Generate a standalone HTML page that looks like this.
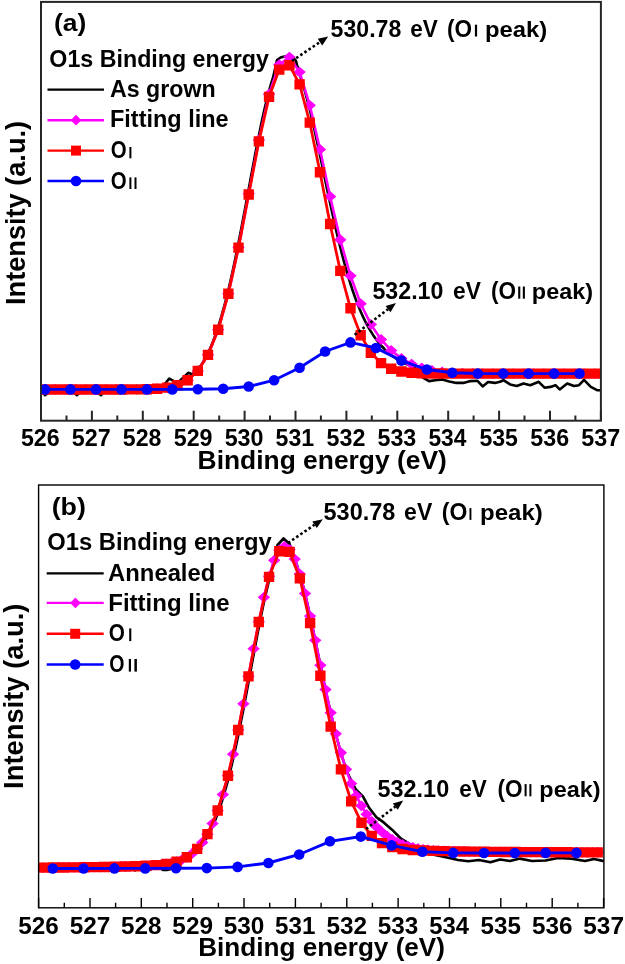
<!DOCTYPE html>
<html><head><meta charset="utf-8"><style>
html,body{margin:0;padding:0;background:#fff;}
svg{display:block;filter:blur(0.35px);}
text{font-family:"Liberation Sans",sans-serif;font-weight:bold;fill:#000;}
</style></head><body>
<svg width="625" height="964" viewBox="0 0 625 964">
<rect width="625" height="964" fill="#fff"/>
<clipPath id="ca"><rect x="41" y="1.9" width="559.9" height="418.8"/></clipPath>
<g clip-path="url(#ca)">
<polyline points="41.0,388.9 45.0,395.2 49.0,392.5 53.0,391.4 57.0,389.0 61.0,390.7 65.0,390.9 69.0,389.3 73.0,392.2 77.0,395.2 81.0,390.5 85.0,391.1 89.0,390.7 93.0,391.4 97.0,392.2 101.0,395.2 105.0,389.9 109.0,391.7 113.0,392.0 117.0,390.0 121.0,388.5 125.0,393.4 129.0,390.0 133.0,390.1 137.0,393.0 141.0,391.4 145.0,390.9 149.0,392.4 153.0,388.7 157.0,392.0 161.0,389.0 164.5,384.5 169.2,378.6 174.0,381.2 179.0,381.5 184.0,377.0 188.4,372.8 192.5,374.5 197.0,369.0 201.0,365.4 203.0,362.3 205.0,358.8 207.0,355.0 209.0,350.9 211.0,346.3 213.0,341.4 215.0,336.1 217.0,330.4 219.0,324.3 221.0,317.7 223.0,310.7 225.0,303.3 227.0,295.4 229.0,287.2 231.0,278.5 233.0,269.5 235.0,260.1 237.0,250.3 239.0,240.3 241.0,230.1 243.0,219.6 245.0,208.9 247.0,198.2 249.0,187.4 251.0,176.6 253.0,165.9 255.0,155.3 257.0,144.9 259.0,134.9 261.0,125.1 263.0,115.8 265.0,107.0 267.0,98.7 269.0,91.0 271.0,84.0 273.0,77.7 277.0,60.0 281.0,57.2 284.5,56.6 289.0,56.8 294.0,58.5 296.0,61.0 297.0,65.3 299.0,69.6 301.0,78.9 303.0,84.9 305.0,91.6 307.0,98.8 309.0,106.5 311.0,114.7 313.0,123.3 315.0,132.2 317.0,141.3 319.0,150.7 321.0,160.1 323.0,169.6 325.0,179.2 327.0,188.7 329.0,198.1 331.0,207.3 333.0,216.4 335.0,225.3 337.0,233.9 339.0,242.2 341.0,250.2 343.0,258.0 345.0,265.3 347.0,272.4 349.0,279.1 351.0,285.5 353.0,291.5 355.0,297.2 357.0,302.6 359.0,307.6 361.0,312.3 363.0,316.7 365.0,320.9 367.0,324.8 369.0,328.4 371.0,331.7 373.0,334.9 375.0,337.8 377.0,340.5 379.0,343.0 381.0,345.4 383.0,347.5 385.0,349.6 387.0,351.5 389.0,353.2 391.0,354.9 393.0,356.4 395.0,357.8 397.0,359.1 399.0,360.3 401.0,361.5 403.0,362.5 405.0,363.5 407.0,364.4 409.0,365.2 411.0,366.0 413.0,366.7 415.0,367.4 417.0,368.0 422.9,377.6 429.0,381.1 435.2,380.2 442.3,379.4 449.3,381.5 456.3,382.9 463.4,382.9 470.4,381.1 477.5,380.8 482.7,386.4 488.0,382.0 495.0,382.9 500.0,381.8 503.4,380.2 510.1,384.4 516.8,386.0 523.5,383.5 530.3,385.2 538.7,381.8 544.5,387.7 550.4,386.9 555.5,385.2 559.7,389.4 567.2,383.5 574.0,386.0 579.0,385.2 584.0,379.8 590.8,386.9 597.5,390.3 602.0,390.3" fill="none" stroke="#000" stroke-width="2.6" stroke-linejoin="round"/>
<polyline points="45.1,389.4 55.3,389.4 65.5,389.4 75.6,389.4 85.8,389.4 96.0,389.4 106.2,389.4 116.4,389.4 126.5,389.4 136.7,389.4 146.9,389.2 157.1,388.7 167.3,387.6 177.4,385.2 187.6,380.2 197.8,370.9 208.0,354.8 218.2,329.6 228.3,293.6 238.5,247.3 248.7,193.9 258.9,140.0 269.1,94.1 279.2,64.7 289.4,57.1 299.6,72.1 309.8,105.3 320.0,149.5 330.1,196.5 340.3,239.8 350.5,275.8 360.7,303.7 370.9,324.4 381.0,339.5 391.2,350.5 401.4,358.4 411.6,364.0 421.8,367.9 431.9,370.4 442.1,371.9 452.3,372.8 462.5,373.2 472.7,373.4 482.8,373.5 493.0,373.6 503.2,373.6 513.4,373.6 523.6,373.6 533.7,373.6 543.9,373.6 554.1,373.6 564.3,373.6 574.5,373.6 584.6,373.6 594.8,373.6" fill="none" stroke="#f0f" stroke-width="2.6"/>
<path d="M45.10,384.05l6.2,5.4l-6.2,5.4l-6.2,-5.4zM55.28,384.05l6.2,5.4l-6.2,5.4l-6.2,-5.4zM65.46,384.05l6.2,5.4l-6.2,5.4l-6.2,-5.4zM75.64,384.05l6.2,5.4l-6.2,5.4l-6.2,-5.4zM85.82,384.05l6.2,5.4l-6.2,5.4l-6.2,-5.4zM96.00,384.05l6.2,5.4l-6.2,5.4l-6.2,-5.4zM106.18,384.05l6.2,5.4l-6.2,5.4l-6.2,-5.4zM116.36,384.04l6.2,5.4l-6.2,5.4l-6.2,-5.4zM126.54,384.02l6.2,5.4l-6.2,5.4l-6.2,-5.4zM136.72,383.96l6.2,5.4l-6.2,5.4l-6.2,-5.4zM146.90,383.79l6.2,5.4l-6.2,5.4l-6.2,-5.4zM157.08,383.34l6.2,5.4l-6.2,5.4l-6.2,-5.4zM167.26,382.25l6.2,5.4l-6.2,5.4l-6.2,-5.4zM177.44,379.82l6.2,5.4l-6.2,5.4l-6.2,-5.4zM187.62,374.84l6.2,5.4l-6.2,5.4l-6.2,-5.4zM197.80,365.50l6.2,5.4l-6.2,5.4l-6.2,-5.4zM207.98,349.44l6.2,5.4l-6.2,5.4l-6.2,-5.4zM218.16,324.23l6.2,5.4l-6.2,5.4l-6.2,-5.4zM228.34,288.24l6.2,5.4l-6.2,5.4l-6.2,-5.4zM238.52,241.86l6.2,5.4l-6.2,5.4l-6.2,-5.4zM248.70,188.46l6.2,5.4l-6.2,5.4l-6.2,-5.4zM258.88,134.56l6.2,5.4l-6.2,5.4l-6.2,-5.4zM269.06,88.74l6.2,5.4l-6.2,5.4l-6.2,-5.4zM279.24,59.31l6.2,5.4l-6.2,5.4l-6.2,-5.4zM289.42,51.72l6.2,5.4l-6.2,5.4l-6.2,-5.4zM299.60,66.65l6.2,5.4l-6.2,5.4l-6.2,-5.4zM309.78,99.93l6.2,5.4l-6.2,5.4l-6.2,-5.4zM319.96,144.11l6.2,5.4l-6.2,5.4l-6.2,-5.4zM330.14,191.07l6.2,5.4l-6.2,5.4l-6.2,-5.4zM340.32,234.37l6.2,5.4l-6.2,5.4l-6.2,-5.4zM350.50,270.41l6.2,5.4l-6.2,5.4l-6.2,-5.4zM360.68,298.31l6.2,5.4l-6.2,5.4l-6.2,-5.4zM370.86,319.01l6.2,5.4l-6.2,5.4l-6.2,-5.4zM381.04,334.10l6.2,5.4l-6.2,5.4l-6.2,-5.4zM391.22,345.06l6.2,5.4l-6.2,5.4l-6.2,-5.4zM401.40,353.00l6.2,5.4l-6.2,5.4l-6.2,-5.4zM411.58,358.65l6.2,5.4l-6.2,5.4l-6.2,-5.4zM421.76,362.51l6.2,5.4l-6.2,5.4l-6.2,-5.4zM431.94,365.01l6.2,5.4l-6.2,5.4l-6.2,-5.4zM442.12,366.53l6.2,5.4l-6.2,5.4l-6.2,-5.4zM452.30,367.38l6.2,5.4l-6.2,5.4l-6.2,-5.4zM462.48,367.83l6.2,5.4l-6.2,5.4l-6.2,-5.4zM472.66,368.04l6.2,5.4l-6.2,5.4l-6.2,-5.4zM482.84,368.14l6.2,5.4l-6.2,5.4l-6.2,-5.4zM493.02,368.18l6.2,5.4l-6.2,5.4l-6.2,-5.4zM503.20,368.19l6.2,5.4l-6.2,5.4l-6.2,-5.4zM513.38,368.20l6.2,5.4l-6.2,5.4l-6.2,-5.4zM523.56,368.20l6.2,5.4l-6.2,5.4l-6.2,-5.4zM533.74,368.20l6.2,5.4l-6.2,5.4l-6.2,-5.4zM543.92,368.20l6.2,5.4l-6.2,5.4l-6.2,-5.4zM554.10,368.20l6.2,5.4l-6.2,5.4l-6.2,-5.4zM564.28,368.20l6.2,5.4l-6.2,5.4l-6.2,-5.4zM574.46,368.20l6.2,5.4l-6.2,5.4l-6.2,-5.4zM584.64,368.20l6.2,5.4l-6.2,5.4l-6.2,-5.4zM594.82,368.20l6.2,5.4l-6.2,5.4l-6.2,-5.4z" fill="#f0f"/>
<polyline points="45.1,389.4 55.3,389.4 65.5,389.4 75.6,389.4 85.8,389.4 96.0,389.4 106.2,389.4 116.4,389.4 126.5,389.4 136.7,389.4 146.9,389.2 157.1,388.7 167.3,387.6 177.4,385.2 187.6,380.2 197.8,370.9 208.0,354.9 218.2,329.7 228.3,293.8 238.5,247.6 248.7,194.6 258.9,141.4 269.1,96.9 279.2,69.6 289.4,65.2 299.6,84.3 309.8,122.7 320.0,172.2 330.1,224.0 340.3,270.8 350.5,308.3 360.7,335.2 370.9,352.7 381.0,363.1 391.2,368.8 401.4,371.5 411.6,372.8 421.8,373.3 431.9,373.5 442.1,373.6 452.3,373.6 462.5,373.6 472.7,373.6 482.8,373.6 493.0,373.6 503.2,373.6 513.4,373.6 523.6,373.6 533.7,373.6 543.9,373.6 554.1,373.6 564.3,373.6 574.5,373.6 584.6,373.6 594.8,373.6" fill="none" stroke="#f00" stroke-width="2.8"/>
<path d="M39.90,384.25h10.4v10.4h-10.4zM50.08,384.25h10.4v10.4h-10.4zM60.26,384.25h10.4v10.4h-10.4zM70.44,384.25h10.4v10.4h-10.4zM80.62,384.25h10.4v10.4h-10.4zM90.80,384.25h10.4v10.4h-10.4zM100.98,384.25h10.4v10.4h-10.4zM111.16,384.24h10.4v10.4h-10.4zM121.34,384.22h10.4v10.4h-10.4zM131.52,384.16h10.4v10.4h-10.4zM141.70,383.99h10.4v10.4h-10.4zM151.88,383.54h10.4v10.4h-10.4zM162.06,382.45h10.4v10.4h-10.4zM172.24,380.02h10.4v10.4h-10.4zM182.42,375.05h10.4v10.4h-10.4zM192.60,365.71h10.4v10.4h-10.4zM202.78,349.66h10.4v10.4h-10.4zM212.96,324.48h10.4v10.4h-10.4zM223.14,288.58h10.4v10.4h-10.4zM233.32,242.38h10.4v10.4h-10.4zM243.50,189.37h10.4v10.4h-10.4zM253.68,136.22h10.4v10.4h-10.4zM263.86,91.72h10.4v10.4h-10.4zM274.04,64.43h10.4v10.4h-10.4zM284.22,59.99h10.4v10.4h-10.4zM294.40,79.14h10.4v10.4h-10.4zM304.58,117.47h10.4v10.4h-10.4zM314.76,167.01h10.4v10.4h-10.4zM324.94,218.85h10.4v10.4h-10.4zM335.12,265.64h10.4v10.4h-10.4zM345.30,303.08h10.4v10.4h-10.4zM355.48,330.00h10.4v10.4h-10.4zM365.66,347.54h10.4v10.4h-10.4zM375.84,357.93h10.4v10.4h-10.4zM386.02,363.56h10.4v10.4h-10.4zM396.20,366.34h10.4v10.4h-10.4zM406.38,367.60h10.4v10.4h-10.4zM416.56,368.12h10.4v10.4h-10.4zM426.74,368.31h10.4v10.4h-10.4zM436.92,368.37h10.4v10.4h-10.4zM447.10,368.39h10.4v10.4h-10.4zM457.28,368.40h10.4v10.4h-10.4zM467.46,368.40h10.4v10.4h-10.4zM477.64,368.40h10.4v10.4h-10.4zM487.82,368.40h10.4v10.4h-10.4zM498.00,368.40h10.4v10.4h-10.4zM508.18,368.40h10.4v10.4h-10.4zM518.36,368.40h10.4v10.4h-10.4zM528.54,368.40h10.4v10.4h-10.4zM538.72,368.40h10.4v10.4h-10.4zM548.90,368.40h10.4v10.4h-10.4zM559.08,368.40h10.4v10.4h-10.4zM569.26,368.40h10.4v10.4h-10.4zM579.44,368.40h10.4v10.4h-10.4zM589.62,368.40h10.4v10.4h-10.4z" fill="#f00"/>
<polyline points="45.1,389.4 70.5,389.4 96.0,389.4 121.4,389.4 146.9,389.4 172.3,389.4 197.8,389.3 223.2,388.7 248.7,386.5 274.1,380.2 299.6,367.7 325.1,351.5 350.5,342.4 375.9,348.0 401.4,360.6 426.9,369.5 452.3,372.8 477.8,373.5 503.2,373.6 528.6,373.6 554.1,373.6 579.5,373.6" fill="none" stroke="#00f" stroke-width="2.9"/>
<circle cx="45.1" cy="389.4" r="5.3" fill="#00f"/><circle cx="70.5" cy="389.4" r="5.3" fill="#00f"/><circle cx="96.0" cy="389.4" r="5.3" fill="#00f"/><circle cx="121.4" cy="389.4" r="5.3" fill="#00f"/><circle cx="146.9" cy="389.4" r="5.3" fill="#00f"/><circle cx="172.3" cy="389.4" r="5.3" fill="#00f"/><circle cx="197.8" cy="389.3" r="5.3" fill="#00f"/><circle cx="223.2" cy="388.7" r="5.3" fill="#00f"/><circle cx="248.7" cy="386.5" r="5.3" fill="#00f"/><circle cx="274.1" cy="380.2" r="5.3" fill="#00f"/><circle cx="299.6" cy="367.7" r="5.3" fill="#00f"/><circle cx="325.1" cy="351.5" r="5.3" fill="#00f"/><circle cx="350.5" cy="342.4" r="5.3" fill="#00f"/><circle cx="375.9" cy="348.0" r="5.3" fill="#00f"/><circle cx="401.4" cy="360.6" r="5.3" fill="#00f"/><circle cx="426.9" cy="369.5" r="5.3" fill="#00f"/><circle cx="452.3" cy="372.8" r="5.3" fill="#00f"/><circle cx="477.8" cy="373.5" r="5.3" fill="#00f"/><circle cx="503.2" cy="373.6" r="5.3" fill="#00f"/><circle cx="528.6" cy="373.6" r="5.3" fill="#00f"/><circle cx="554.1" cy="373.6" r="5.3" fill="#00f"/><circle cx="579.5" cy="373.6" r="5.3" fill="#00f"/>
</g>
<rect x="41" y="1.9" width="559.90" height="418.80" fill="none" stroke="#262626" stroke-width="2.0"/>
<path d="M41.0,420.7v-10 M66.5,420.7v-5.3 M91.9,420.7v-10 M117.3,420.7v-5.3 M142.8,420.7v-10 M168.2,420.7v-5.3 M193.7,420.7v-10 M219.2,420.7v-5.3 M244.6,420.7v-10 M270.0,420.7v-5.3 M295.5,420.7v-10 M320.9,420.7v-5.3 M346.4,420.7v-10 M371.8,420.7v-5.3 M397.3,420.7v-10 M422.8,420.7v-5.3 M448.2,420.7v-10 M473.6,420.7v-5.3 M499.1,420.7v-10 M524.5,420.7v-5.3 M550.0,420.7v-10 M575.4,420.7v-5.3 M600.9,420.7v-10" stroke="#262626" stroke-width="2.0" fill="none"/>
<clipPath id="cb"><rect x="38.6" y="485.0" width="565.3" height="422.79999999999995"/></clipPath>
<g clip-path="url(#cb)">
<polyline points="39.0,868.2 43.0,866.9 47.0,869.5 51.0,870.7 55.0,867.4 59.0,869.3 63.0,867.8 67.0,869.8 71.0,869.7 75.0,867.5 79.0,870.2 83.0,869.5 87.0,869.6 91.0,870.2 95.0,868.4 99.0,869.9 103.0,870.5 107.0,867.0 111.0,870.3 115.0,868.3 119.0,868.7 123.0,867.2 127.0,869.6 131.0,867.8 135.0,870.4 139.0,867.7 143.0,869.0 147.0,868.3 151.0,869.3 155.0,867.4 159.0,867.3 163.0,869.9 167.0,869.9 171.0,869.1 175.0,862.9 177.0,862.4 179.0,861.8 181.0,861.0 183.0,860.2 185.0,859.3 187.0,858.2 189.0,857.1 191.0,855.7 193.0,854.2 195.0,852.5 197.0,850.6 199.0,848.4 201.0,846.0 203.0,843.4 205.0,840.4 207.0,837.2 209.0,833.6 211.0,829.7 213.0,825.4 215.0,820.7 217.0,815.6 219.0,810.1 221.0,804.2 223.0,797.8 225.0,791.0 227.0,783.8 229.0,776.1 231.0,768.0 233.0,759.5 235.0,750.5 237.0,741.2 239.0,731.6 241.0,721.6 243.0,711.4 245.0,700.9 247.0,690.3 249.0,679.6 251.0,668.7 253.0,657.9 255.0,647.2 257.0,636.6 259.0,626.3 261.0,616.2 263.0,606.6 265.0,597.4 267.0,588.8 269.0,580.8 271.0,573.5 277.5,545.0 283.6,538.5 289.6,544.0 295.0,559.8 297.0,565.1 299.0,571.3 301.0,578.1 303.0,585.6 305.0,593.6 307.0,602.1 309.0,610.9 311.0,620.1 313.0,629.5 315.0,639.1 317.0,648.8 319.0,658.5 321.0,668.1 323.0,677.7 325.0,687.1 327.0,696.4 329.0,705.4 331.0,714.1 333.0,722.5 335.0,730.7 337.0,738.5 339.0,745.9 341.0,753.0 343.0,759.7 345.0,766.1 348.3,774.6 355.6,789.1 362.9,796.4 369.1,807.8 376.4,817.2 383.7,822.4 392.0,829.7 400.3,838.0 406.6,842.2 420.0,850.0 435.0,855.0 448.2,857.8 458.0,860.0 468.3,861.2 479.0,860.0 490.4,862.3 500.0,859.5 510.0,861.0 519.9,858.6 532.0,861.0 545.6,860.5 558.0,858.0 571.4,858.6 585.0,861.0 594.0,859.0 604.0,861.2" fill="none" stroke="#000" stroke-width="2.6" stroke-linejoin="round"/>
<polyline points="43.1,867.6 48.2,867.6 53.4,867.5 58.5,867.5 63.6,867.5 68.8,867.4 73.9,867.4 79.0,867.3 84.2,867.2 89.3,867.2 94.4,867.1 99.6,867.0 104.7,866.9 109.9,866.8 115.0,866.7 120.1,866.6 125.3,866.5 130.4,866.4 135.5,866.2 140.7,866.0 145.8,865.8 150.9,865.5 156.1,865.2 161.2,864.7 166.3,864.0 171.5,863.0 176.6,861.7 181.7,859.8 186.9,857.2 192.0,853.7 197.1,848.9 202.3,842.5 207.4,834.2 212.6,823.6 217.7,810.5 222.8,794.6 228.0,775.8 233.1,754.1 238.2,730.0 243.4,703.8 248.5,676.3 253.6,648.6 258.8,621.9 263.9,597.3 269.0,576.4 274.2,560.3 279.3,550.1 284.4,546.5 289.6,549.6 294.7,559.1 299.9,574.1 305.0,593.5 310.1,616.0 315.3,640.3 320.4,665.2 325.5,689.6 330.7,712.6 335.8,733.8 340.9,752.8 346.1,769.3 351.2,783.6 356.3,795.7 361.5,805.9 366.6,814.4 371.7,821.4 376.9,827.3 382.0,832.2 387.1,836.2 392.3,839.5 397.4,842.2 402.6,844.4 407.7,846.1 412.8,847.5 418.0,848.5 423.1,849.3 428.2,849.9 433.4,850.3 438.5,850.7 443.6,850.9 448.8,851.1 453.9,851.3 459.0,851.4 464.2,851.5 469.3,851.6 474.4,851.6 479.6,851.7 484.7,851.8 489.8,851.8 495.0,851.9 500.1,851.9 505.2,852.0 510.4,852.0 515.5,852.0 520.7,852.1 525.8,852.1 530.9,852.1 536.1,852.2 541.2,852.2 546.3,852.2 551.5,852.2 556.6,852.3 561.7,852.3 566.9,852.3 572.0,852.3 577.1,852.3 582.3,852.4 587.4,852.4 592.5,852.4 597.7,852.4" fill="none" stroke="#f0f" stroke-width="2.6"/>
<path d="M43.10,862.23l6.2,5.4l-6.2,5.4l-6.2,-5.4zM48.23,862.19l6.2,5.4l-6.2,5.4l-6.2,-5.4zM53.37,862.15l6.2,5.4l-6.2,5.4l-6.2,-5.4zM58.51,862.10l6.2,5.4l-6.2,5.4l-6.2,-5.4zM63.64,862.06l6.2,5.4l-6.2,5.4l-6.2,-5.4zM68.78,862.01l6.2,5.4l-6.2,5.4l-6.2,-5.4zM73.91,861.95l6.2,5.4l-6.2,5.4l-6.2,-5.4zM79.05,861.90l6.2,5.4l-6.2,5.4l-6.2,-5.4zM84.18,861.83l6.2,5.4l-6.2,5.4l-6.2,-5.4zM89.31,861.77l6.2,5.4l-6.2,5.4l-6.2,-5.4zM94.45,861.70l6.2,5.4l-6.2,5.4l-6.2,-5.4zM99.59,861.62l6.2,5.4l-6.2,5.4l-6.2,-5.4zM104.72,861.53l6.2,5.4l-6.2,5.4l-6.2,-5.4zM109.85,861.44l6.2,5.4l-6.2,5.4l-6.2,-5.4zM114.99,861.35l6.2,5.4l-6.2,5.4l-6.2,-5.4zM120.12,861.24l6.2,5.4l-6.2,5.4l-6.2,-5.4zM125.26,861.12l6.2,5.4l-6.2,5.4l-6.2,-5.4zM130.40,860.98l6.2,5.4l-6.2,5.4l-6.2,-5.4zM135.53,860.82l6.2,5.4l-6.2,5.4l-6.2,-5.4zM140.66,860.64l6.2,5.4l-6.2,5.4l-6.2,-5.4zM145.80,860.41l6.2,5.4l-6.2,5.4l-6.2,-5.4zM150.94,860.13l6.2,5.4l-6.2,5.4l-6.2,-5.4zM156.07,859.76l6.2,5.4l-6.2,5.4l-6.2,-5.4zM161.20,859.26l6.2,5.4l-6.2,5.4l-6.2,-5.4zM166.34,858.58l6.2,5.4l-6.2,5.4l-6.2,-5.4zM171.47,857.63l6.2,5.4l-6.2,5.4l-6.2,-5.4zM176.61,856.30l6.2,5.4l-6.2,5.4l-6.2,-5.4zM181.74,854.43l6.2,5.4l-6.2,5.4l-6.2,-5.4zM186.88,851.84l6.2,5.4l-6.2,5.4l-6.2,-5.4zM192.01,848.27l6.2,5.4l-6.2,5.4l-6.2,-5.4zM197.15,843.46l6.2,5.4l-6.2,5.4l-6.2,-5.4zM202.28,837.07l6.2,5.4l-6.2,5.4l-6.2,-5.4zM207.42,828.76l6.2,5.4l-6.2,5.4l-6.2,-5.4zM212.55,818.20l6.2,5.4l-6.2,5.4l-6.2,-5.4zM217.69,805.07l6.2,5.4l-6.2,5.4l-6.2,-5.4zM222.82,789.16l6.2,5.4l-6.2,5.4l-6.2,-5.4zM227.96,770.35l6.2,5.4l-6.2,5.4l-6.2,-5.4zM233.09,748.73l6.2,5.4l-6.2,5.4l-6.2,-5.4zM238.23,724.57l6.2,5.4l-6.2,5.4l-6.2,-5.4zM243.36,698.39l6.2,5.4l-6.2,5.4l-6.2,-5.4zM248.50,670.95l6.2,5.4l-6.2,5.4l-6.2,-5.4zM253.63,643.25l6.2,5.4l-6.2,5.4l-6.2,-5.4zM258.77,616.47l6.2,5.4l-6.2,5.4l-6.2,-5.4zM263.90,591.93l6.2,5.4l-6.2,5.4l-6.2,-5.4zM269.04,570.97l6.2,5.4l-6.2,5.4l-6.2,-5.4zM274.18,554.88l6.2,5.4l-6.2,5.4l-6.2,-5.4zM279.31,544.69l6.2,5.4l-6.2,5.4l-6.2,-5.4zM284.44,541.07l6.2,5.4l-6.2,5.4l-6.2,-5.4zM289.58,544.19l6.2,5.4l-6.2,5.4l-6.2,-5.4zM294.71,553.67l6.2,5.4l-6.2,5.4l-6.2,-5.4zM299.85,568.70l6.2,5.4l-6.2,5.4l-6.2,-5.4zM304.99,588.12l6.2,5.4l-6.2,5.4l-6.2,-5.4zM310.12,610.64l6.2,5.4l-6.2,5.4l-6.2,-5.4zM315.25,634.94l6.2,5.4l-6.2,5.4l-6.2,-5.4zM320.39,659.80l6.2,5.4l-6.2,5.4l-6.2,-5.4zM325.53,684.18l6.2,5.4l-6.2,5.4l-6.2,-5.4zM330.66,707.24l6.2,5.4l-6.2,5.4l-6.2,-5.4zM335.80,728.41l6.2,5.4l-6.2,5.4l-6.2,-5.4zM340.93,747.35l6.2,5.4l-6.2,5.4l-6.2,-5.4zM346.06,763.93l6.2,5.4l-6.2,5.4l-6.2,-5.4zM351.20,778.19l6.2,5.4l-6.2,5.4l-6.2,-5.4zM356.34,790.29l6.2,5.4l-6.2,5.4l-6.2,-5.4zM361.47,800.46l6.2,5.4l-6.2,5.4l-6.2,-5.4zM366.61,808.95l6.2,5.4l-6.2,5.4l-6.2,-5.4zM371.74,816.03l6.2,5.4l-6.2,5.4l-6.2,-5.4zM376.88,821.91l6.2,5.4l-6.2,5.4l-6.2,-5.4zM382.01,826.78l6.2,5.4l-6.2,5.4l-6.2,-5.4zM387.14,830.81l6.2,5.4l-6.2,5.4l-6.2,-5.4zM392.28,834.12l6.2,5.4l-6.2,5.4l-6.2,-5.4zM397.42,836.82l6.2,5.4l-6.2,5.4l-6.2,-5.4zM402.55,838.99l6.2,5.4l-6.2,5.4l-6.2,-5.4zM407.69,840.71l6.2,5.4l-6.2,5.4l-6.2,-5.4zM412.82,842.06l6.2,5.4l-6.2,5.4l-6.2,-5.4zM417.95,843.11l6.2,5.4l-6.2,5.4l-6.2,-5.4zM423.09,843.90l6.2,5.4l-6.2,5.4l-6.2,-5.4zM428.23,844.49l6.2,5.4l-6.2,5.4l-6.2,-5.4zM433.36,844.94l6.2,5.4l-6.2,5.4l-6.2,-5.4zM438.50,845.27l6.2,5.4l-6.2,5.4l-6.2,-5.4zM443.63,845.52l6.2,5.4l-6.2,5.4l-6.2,-5.4zM448.76,845.71l6.2,5.4l-6.2,5.4l-6.2,-5.4zM453.90,845.86l6.2,5.4l-6.2,5.4l-6.2,-5.4zM459.04,845.98l6.2,5.4l-6.2,5.4l-6.2,-5.4zM464.17,846.07l6.2,5.4l-6.2,5.4l-6.2,-5.4zM469.31,846.16l6.2,5.4l-6.2,5.4l-6.2,-5.4zM474.44,846.23l6.2,5.4l-6.2,5.4l-6.2,-5.4zM479.57,846.30l6.2,5.4l-6.2,5.4l-6.2,-5.4zM484.71,846.36l6.2,5.4l-6.2,5.4l-6.2,-5.4zM489.85,846.41l6.2,5.4l-6.2,5.4l-6.2,-5.4zM494.98,846.46l6.2,5.4l-6.2,5.4l-6.2,-5.4zM500.12,846.51l6.2,5.4l-6.2,5.4l-6.2,-5.4zM505.25,846.55l6.2,5.4l-6.2,5.4l-6.2,-5.4zM510.38,846.59l6.2,5.4l-6.2,5.4l-6.2,-5.4zM515.52,846.63l6.2,5.4l-6.2,5.4l-6.2,-5.4zM520.65,846.67l6.2,5.4l-6.2,5.4l-6.2,-5.4zM525.79,846.70l6.2,5.4l-6.2,5.4l-6.2,-5.4zM530.92,846.73l6.2,5.4l-6.2,5.4l-6.2,-5.4zM536.06,846.76l6.2,5.4l-6.2,5.4l-6.2,-5.4zM541.19,846.79l6.2,5.4l-6.2,5.4l-6.2,-5.4zM546.33,846.82l6.2,5.4l-6.2,5.4l-6.2,-5.4zM551.46,846.84l6.2,5.4l-6.2,5.4l-6.2,-5.4zM556.60,846.87l6.2,5.4l-6.2,5.4l-6.2,-5.4zM561.74,846.89l6.2,5.4l-6.2,5.4l-6.2,-5.4zM566.87,846.91l6.2,5.4l-6.2,5.4l-6.2,-5.4zM572.00,846.93l6.2,5.4l-6.2,5.4l-6.2,-5.4zM577.14,846.95l6.2,5.4l-6.2,5.4l-6.2,-5.4zM582.27,846.96l6.2,5.4l-6.2,5.4l-6.2,-5.4zM587.41,846.98l6.2,5.4l-6.2,5.4l-6.2,-5.4zM592.54,847.00l6.2,5.4l-6.2,5.4l-6.2,-5.4zM597.68,847.01l6.2,5.4l-6.2,5.4l-6.2,-5.4z" fill="#f0f"/>
<polyline points="43.1,867.6 53.4,867.5 63.6,867.5 73.9,867.4 84.2,867.2 94.4,867.1 104.7,866.9 115.0,866.7 125.3,866.5 135.5,866.2 145.8,865.8 156.1,865.2 166.3,864.0 176.6,861.7 186.9,857.2 197.1,848.9 207.4,834.2 217.7,810.5 228.0,775.8 238.2,730.0 248.5,676.4 258.8,622.1 269.0,576.8 279.3,551.2 289.6,551.9 299.9,578.4 310.1,623.1 320.4,675.7 330.7,726.6 340.9,769.4 351.2,801.3 361.5,822.8 371.7,835.8 382.0,843.2 392.3,847.0 402.6,849.0 412.8,850.0 423.1,850.5 433.4,850.9 443.6,851.1 453.9,851.3 464.2,851.5 474.4,851.6 484.7,851.8 495.0,851.9 505.2,852.0 515.5,852.0 525.8,852.1 536.1,852.2 546.3,852.2 556.6,852.3 566.9,852.3 577.1,852.3 587.4,852.4 597.7,852.4" fill="none" stroke="#f00" stroke-width="2.8"/>
<path d="M37.90,862.43h10.4v10.4h-10.4zM48.17,862.35h10.4v10.4h-10.4zM58.44,862.26h10.4v10.4h-10.4zM68.71,862.15h10.4v10.4h-10.4zM78.98,862.03h10.4v10.4h-10.4zM89.25,861.90h10.4v10.4h-10.4zM99.52,861.73h10.4v10.4h-10.4zM109.79,861.55h10.4v10.4h-10.4zM120.06,861.32h10.4v10.4h-10.4zM130.33,861.02h10.4v10.4h-10.4zM140.60,860.61h10.4v10.4h-10.4zM150.87,859.96h10.4v10.4h-10.4zM161.14,858.78h10.4v10.4h-10.4zM171.41,856.50h10.4v10.4h-10.4zM181.68,852.04h10.4v10.4h-10.4zM191.95,843.66h10.4v10.4h-10.4zM202.22,828.96h10.4v10.4h-10.4zM212.49,805.27h10.4v10.4h-10.4zM222.76,770.56h10.4v10.4h-10.4zM233.03,724.79h10.4v10.4h-10.4zM243.30,671.21h10.4v10.4h-10.4zM253.57,616.85h10.4v10.4h-10.4zM263.84,571.65h10.4v10.4h-10.4zM274.11,545.99h10.4v10.4h-10.4zM284.38,546.68h10.4v10.4h-10.4zM294.65,573.16h10.4v10.4h-10.4zM304.92,617.92h10.4v10.4h-10.4zM315.19,670.53h10.4v10.4h-10.4zM325.46,721.44h10.4v10.4h-10.4zM335.73,764.21h10.4v10.4h-10.4zM346.00,796.13h10.4v10.4h-10.4zM356.27,817.56h10.4v10.4h-10.4zM366.54,830.63h10.4v10.4h-10.4zM376.81,837.97h10.4v10.4h-10.4zM387.08,841.81h10.4v10.4h-10.4zM397.35,843.76h10.4v10.4h-10.4zM407.62,844.76h10.4v10.4h-10.4zM417.89,845.32h10.4v10.4h-10.4zM428.16,845.67h10.4v10.4h-10.4zM438.43,845.93h10.4v10.4h-10.4zM448.70,846.13h10.4v10.4h-10.4zM458.97,846.30h10.4v10.4h-10.4zM469.24,846.44h10.4v10.4h-10.4zM479.51,846.56h10.4v10.4h-10.4zM489.78,846.66h10.4v10.4h-10.4zM500.05,846.75h10.4v10.4h-10.4zM510.32,846.83h10.4v10.4h-10.4zM520.59,846.90h10.4v10.4h-10.4zM530.86,846.96h10.4v10.4h-10.4zM541.13,847.02h10.4v10.4h-10.4zM551.40,847.07h10.4v10.4h-10.4zM561.67,847.11h10.4v10.4h-10.4zM571.94,847.15h10.4v10.4h-10.4zM582.21,847.18h10.4v10.4h-10.4zM592.48,847.21h10.4v10.4h-10.4z" fill="#f00"/>
<polyline points="52.8,868.5 83.6,868.5 114.4,868.4 145.2,868.4 176.0,868.3 206.8,868.1 237.6,866.9 268.4,863.0 299.2,854.5 330.0,841.3 360.8,836.6 391.6,845.4 422.4,851.7 453.2,852.9 484.0,853.0 514.8,853.0 545.6,852.9 576.4,852.9" fill="none" stroke="#00f" stroke-width="2.9"/>
<circle cx="52.8" cy="868.5" r="5.3" fill="#00f"/><circle cx="83.6" cy="868.5" r="5.3" fill="#00f"/><circle cx="114.4" cy="868.4" r="5.3" fill="#00f"/><circle cx="145.2" cy="868.4" r="5.3" fill="#00f"/><circle cx="176.0" cy="868.3" r="5.3" fill="#00f"/><circle cx="206.8" cy="868.1" r="5.3" fill="#00f"/><circle cx="237.6" cy="866.9" r="5.3" fill="#00f"/><circle cx="268.4" cy="863.0" r="5.3" fill="#00f"/><circle cx="299.2" cy="854.5" r="5.3" fill="#00f"/><circle cx="330.0" cy="841.3" r="5.3" fill="#00f"/><circle cx="360.8" cy="836.6" r="5.3" fill="#00f"/><circle cx="391.6" cy="845.4" r="5.3" fill="#00f"/><circle cx="422.4" cy="851.7" r="5.3" fill="#00f"/><circle cx="453.2" cy="852.9" r="5.3" fill="#00f"/><circle cx="484.0" cy="853.0" r="5.3" fill="#00f"/><circle cx="514.8" cy="853.0" r="5.3" fill="#00f"/><circle cx="545.6" cy="852.9" r="5.3" fill="#00f"/><circle cx="576.4" cy="852.9" r="5.3" fill="#00f"/>
</g>
<rect x="38.6" y="485.0" width="565.30" height="422.80" fill="none" stroke="#000" stroke-width="1.4"/>
<path d="M38.6,907.8v-9.8 M64.3,907.8v-5 M90.0,907.8v-9.8 M115.6,907.8v-5 M141.3,907.8v-9.8 M167.0,907.8v-5 M192.7,907.8v-9.8 M218.4,907.8v-5 M244.0,907.8v-9.8 M269.7,907.8v-5 M295.4,907.8v-9.8 M321.1,907.8v-5 M346.8,907.8v-9.8 M372.4,907.8v-5 M398.1,907.8v-9.8 M423.8,907.8v-5 M449.5,907.8v-9.8 M475.2,907.8v-5 M500.8,907.8v-9.8 M526.5,907.8v-5 M552.2,907.8v-9.8 M577.9,907.8v-5 M603.6,907.8v-9.8" stroke="#000" stroke-width="1.4" fill="none"/>
<line x1="47.5" y1="89.6" x2="104" y2="89.6" stroke="#000" stroke-width="2.4"/>
<line x1="47.5" y1="120.2" x2="104" y2="120.2" stroke="#f0f" stroke-width="2.4"/>
<path d="M76.00,114.80l5.3,5.4l-5.3,5.4l-5.3,-5.4z" fill="#f0f"/>
<line x1="47.5" y1="150.6" x2="104" y2="150.6" stroke="#f00" stroke-width="2.4"/>
<path d="M71.00,145.60h10v10h-10z" fill="#f00"/>
<line x1="47.5" y1="181.0" x2="104" y2="181.0" stroke="#00f" stroke-width="2.4"/>
<circle cx="76" cy="181.0" r="5.3" fill="#00f"/>
<line x1="46.7" y1="573.4" x2="103.7" y2="573.4" stroke="#000" stroke-width="2.4"/>
<line x1="46.7" y1="602.9" x2="103.7" y2="602.9" stroke="#f0f" stroke-width="2.4"/>
<path d="M75.40,597.50l5.3,5.4l-5.3,5.4l-5.3,-5.4z" fill="#f0f"/>
<line x1="46.7" y1="633.8" x2="103.7" y2="633.8" stroke="#f00" stroke-width="2.4"/>
<path d="M70.20,628.80h10v10h-10z" fill="#f00"/>
<line x1="46.7" y1="664.5" x2="103.7" y2="664.5" stroke="#00f" stroke-width="2.4"/>
<circle cx="75.2" cy="664.5" r="5.3" fill="#00f"/>
<line x1="292" y1="61" x2="319.9" y2="42.1" stroke="#000" stroke-width="2.6" stroke-dasharray="2.6 2.4"/>
<path d="M328.2,36.5L322.2,45.4L317.7,38.8z" fill="#000"/>
<line x1="354.6" y1="334.8" x2="388.1" y2="309.1" stroke="#000" stroke-width="2.6" stroke-dasharray="2.6 2.4"/>
<path d="M396,303L390.5,312.3L385.6,305.9z" fill="#000"/>
<line x1="288" y1="543" x2="314.5" y2="524.8" stroke="#000" stroke-width="2.6" stroke-dasharray="2.6 2.4"/>
<path d="M322.8,519.2L316.8,528.1L312.3,521.5z" fill="#000"/>
<line x1="366" y1="829" x2="395.3" y2="806.6" stroke="#000" stroke-width="2.6" stroke-dasharray="2.6 2.4"/>
<path d="M403.2,800.5L397.7,809.8L392.8,803.4z" fill="#000"/>
<text x="20.89" y="446.00" font-size="23.5" textLength="38.75" lengthAdjust="spacingAndGlyphs">526</text>
<text x="18.30" y="933.50" font-size="23.5" textLength="40.52" lengthAdjust="spacingAndGlyphs">526</text>
<text x="71.83" y="446.00" font-size="23.5" textLength="38.94" lengthAdjust="spacingAndGlyphs">527</text>
<text x="69.66" y="933.50" font-size="23.5" textLength="40.72" lengthAdjust="spacingAndGlyphs">527</text>
<text x="122.78" y="446.00" font-size="23.5" textLength="38.62" lengthAdjust="spacingAndGlyphs">528</text>
<text x="121.03" y="933.50" font-size="23.5" textLength="40.39" lengthAdjust="spacingAndGlyphs">528</text>
<text x="173.72" y="446.00" font-size="23.5" textLength="38.78" lengthAdjust="spacingAndGlyphs">529</text>
<text x="172.38" y="933.50" font-size="23.5" textLength="40.55" lengthAdjust="spacingAndGlyphs">529</text>
<text x="224.67" y="446.00" font-size="23.5" textLength="38.87" lengthAdjust="spacingAndGlyphs">530</text>
<text x="223.74" y="933.50" font-size="23.5" textLength="40.65" lengthAdjust="spacingAndGlyphs">530</text>
<text x="275.62" y="446.00" font-size="23.5" textLength="38.55" lengthAdjust="spacingAndGlyphs">531</text>
<text x="275.11" y="933.50" font-size="23.5" textLength="40.32" lengthAdjust="spacingAndGlyphs">531</text>
<text x="326.56" y="446.00" font-size="23.5" textLength="38.85" lengthAdjust="spacingAndGlyphs">532</text>
<text x="326.46" y="933.50" font-size="23.5" textLength="40.62" lengthAdjust="spacingAndGlyphs">532</text>
<text x="377.50" y="446.00" font-size="23.5" textLength="38.75" lengthAdjust="spacingAndGlyphs">533</text>
<text x="377.82" y="933.50" font-size="23.5" textLength="40.52" lengthAdjust="spacingAndGlyphs">533</text>
<text x="428.46" y="446.00" font-size="23.5" textLength="38.02" lengthAdjust="spacingAndGlyphs">534</text>
<text x="429.20" y="933.50" font-size="23.5" textLength="39.76" lengthAdjust="spacingAndGlyphs">534</text>
<text x="479.40" y="446.00" font-size="23.5" textLength="38.55" lengthAdjust="spacingAndGlyphs">535</text>
<text x="480.55" y="933.50" font-size="23.5" textLength="40.32" lengthAdjust="spacingAndGlyphs">535</text>
<text x="530.34" y="446.00" font-size="23.5" textLength="38.75" lengthAdjust="spacingAndGlyphs">536</text>
<text x="531.90" y="933.50" font-size="23.5" textLength="40.52" lengthAdjust="spacingAndGlyphs">536</text>
<text x="581.28" y="446.00" font-size="23.5" textLength="38.94" lengthAdjust="spacingAndGlyphs">537</text>
<text x="583.26" y="933.50" font-size="23.5" textLength="40.72" lengthAdjust="spacingAndGlyphs">537</text>
<text x="197.64" y="468.90" font-size="26" textLength="249.18" lengthAdjust="spacingAndGlyphs">Binding energy (eV)</text>
<text x="198.25" y="956.20" font-size="25.5" textLength="246.75" lengthAdjust="spacingAndGlyphs">Binding energy (eV)</text>
<text transform="translate(25.40,304.92) rotate(-90)" x="0" y="0" font-size="28" textLength="183.97" lengthAdjust="spacingAndGlyphs">Intensity (a.u.)</text>
<text transform="translate(22.50,788.93) rotate(-90)" x="0" y="0" font-size="28" textLength="185.39" lengthAdjust="spacingAndGlyphs">Intensity (a.u.)</text>
<text x="53.98" y="31.00" font-size="24.2" textLength="32.34" lengthAdjust="spacingAndGlyphs">(a)</text>
<text x="51.66" y="515.00" font-size="24.2" textLength="34.27" lengthAdjust="spacingAndGlyphs">(b)</text>
<text x="49.35" y="66.80" font-size="24.8" textLength="219.48" lengthAdjust="spacingAndGlyphs">O1s Binding energy</text>
<text x="110.02" y="97.00" font-size="24.2" textLength="105.72" lengthAdjust="spacingAndGlyphs">As grown</text>
<text x="110.03" y="127.40" font-size="24.2" textLength="118.57" lengthAdjust="spacingAndGlyphs">Fitting line</text>
<text x="110.76" y="158.30" font-size="23.6" textLength="15.90" lengthAdjust="spacingAndGlyphs">O</text>
<text x="110.76" y="189.00" font-size="24.3" textLength="15.90" lengthAdjust="spacingAndGlyphs">O</text>
<text x="47.33" y="549.80" font-size="24.8" textLength="224.50" lengthAdjust="spacingAndGlyphs">O1s Binding energy</text>
<text x="108.11" y="580.50" font-size="24.2" textLength="107.16" lengthAdjust="spacingAndGlyphs">Annealed</text>
<text x="108.30" y="611.20" font-size="24.2" textLength="121.22" lengthAdjust="spacingAndGlyphs">Fitting line</text>
<text x="108.75" y="641.10" font-size="24.0" textLength="16.12" lengthAdjust="spacingAndGlyphs">O</text>
<text x="109.20" y="671.60" font-size="24.3" textLength="15.22" lengthAdjust="spacingAndGlyphs">O</text>
<text x="330.59" y="36.50" font-size="23" textLength="70.72" lengthAdjust="spacingAndGlyphs">530.78</text>
<text x="410.32" y="36.50" font-size="23" textLength="27.53" lengthAdjust="spacingAndGlyphs">eV</text>
<text x="446.88" y="36.50" font-size="23.5" textLength="25.07" lengthAdjust="spacingAndGlyphs">(O</text>
<text x="485.03" y="36.50" font-size="22" textLength="62.26" lengthAdjust="spacingAndGlyphs">peak)</text>
<text x="372.49" y="298.70" font-size="23" textLength="70.86" lengthAdjust="spacingAndGlyphs">532.10</text>
<text x="453.01" y="298.70" font-size="23" textLength="27.84" lengthAdjust="spacingAndGlyphs">eV</text>
<text x="490.88" y="298.70" font-size="23.5" textLength="25.07" lengthAdjust="spacingAndGlyphs">(O</text>
<text x="531.86" y="298.70" font-size="22" textLength="61.11" lengthAdjust="spacingAndGlyphs">peak)</text>
<text x="323.58" y="519.90" font-size="23" textLength="71.74" lengthAdjust="spacingAndGlyphs">530.78</text>
<text x="404.10" y="519.90" font-size="23" textLength="28.16" lengthAdjust="spacingAndGlyphs">eV</text>
<text x="441.76" y="519.90" font-size="23.5" textLength="25.51" lengthAdjust="spacingAndGlyphs">(O</text>
<text x="480.12" y="519.90" font-size="22" textLength="62.68" lengthAdjust="spacingAndGlyphs">peak)</text>
<text x="377.58" y="796.60" font-size="23" textLength="71.58" lengthAdjust="spacingAndGlyphs">532.10</text>
<text x="459.32" y="796.60" font-size="23" textLength="27.53" lengthAdjust="spacingAndGlyphs">eV</text>
<text x="497.38" y="796.60" font-size="23.5" textLength="25.07" lengthAdjust="spacingAndGlyphs">(O</text>
<text x="539.36" y="796.60" font-size="22" textLength="61.21" lengthAdjust="spacingAndGlyphs">peak)</text>
<g fill="#000"><rect x="129.40" y="147.00" width="2.00" height="11.30"/><rect x="129.40" y="177.40" width="2.00" height="11.60"/><rect x="134.50" y="177.40" width="2.00" height="11.60"/><rect x="129.20" y="628.40" width="2.10" height="12.70"/><rect x="128.80" y="659.00" width="2.20" height="12.60"/><rect x="134.40" y="659.00" width="2.50" height="12.60"/><rect x="474.90" y="24.70" width="2.20" height="11.80"/><rect x="518.20" y="286.50" width="2.10" height="12.20"/><rect x="522.80" y="286.50" width="2.10" height="12.20"/><rect x="469.50" y="508.10" width="1.90" height="11.80"/><rect x="524.60" y="784.10" width="2.00" height="12.20"/><rect x="529.40" y="784.10" width="2.00" height="12.20"/></g>
</svg>
</body></html>
